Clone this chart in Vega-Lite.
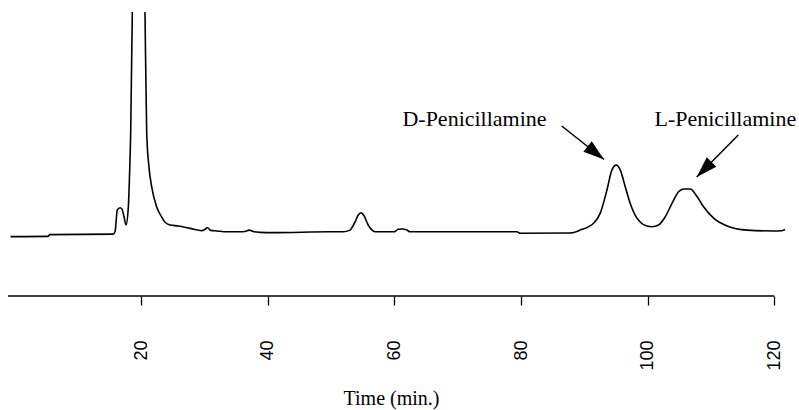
{
  "$schema": "https://vega.github.io/schema/vega-lite/v6.json",
  "width": 779,
  "height": 284,
  "autosize": {"type": "none"},
  "padding": {"left": 8, "top": 12, "right": 12, "bottom": 114},
  "background": "white",
  "config": {"view": {"stroke": null}, "axisY": {"disable": true}},
  "datasets": {
    "trace": [
      {"t": -0.6, "s": 20.9}, {"t": 5.3, "s": 21.0}, {"t": 5.6, "s": 21.6}, {"t": 15.6, "s": 21.8},
      {"t": 15.9, "s": 22.6}, {"t": 16.26, "s": 30.3}, {"t": 16.69, "s": 31.1}, {"t": 17.0, "s": 30.6},
      {"t": 17.32, "s": 27.9}, {"t": 17.63, "s": 25.0}, {"t": 18.0, "s": 31.3}, {"t": 18.19, "s": 42.6},
      {"t": 18.37, "s": 57.4}, {"t": 18.63, "s": 100.3}, {"t": 18.82, "s": 139}, {"t": 19.6, "s": 180},
      {"t": 20.4, "s": 139}, {"t": 20.63, "s": 100.3}, {"t": 20.9, "s": 57.4}, {"t": 21.26, "s": 45.4},
      {"t": 21.69, "s": 38.4}, {"t": 22.48, "s": 31.3}, {"t": 23.27, "s": 27.8}, {"t": 23.79, "s": 25.95},
      {"t": 24.58, "s": 25.0}, {"t": 25.9, "s": 24.65}, {"t": 27.75, "s": 23.8}, {"t": 29.6, "s": 23.0},
      {"t": 30.0, "s": 23.3}, {"t": 30.48, "s": 24.05}, {"t": 31.0, "s": 23.1}, {"t": 31.97, "s": 22.9},
      {"t": 33.55, "s": 22.6}, {"t": 35.65, "s": 22.6}, {"t": 36.4, "s": 22.7}, {"t": 37.12, "s": 23.2},
      {"t": 37.86, "s": 22.6}, {"t": 38.8, "s": 22.4}, {"t": 40.9, "s": 22.3}, {"t": 49.86, "s": 22.6},
      {"t": 51.9, "s": 22.6}, {"t": 53.0, "s": 23.2}, {"t": 53.8, "s": 26.1}, {"t": 54.3, "s": 28.5},
      {"t": 54.71, "s": 29.3}, {"t": 55.23, "s": 28.2}, {"t": 55.87, "s": 25.0}, {"t": 56.5, "s": 23.2},
      {"t": 56.97, "s": 22.6}, {"t": 60.0, "s": 22.6}, {"t": 60.6, "s": 23.5}, {"t": 61.3, "s": 23.6},
      {"t": 61.9, "s": 23.3}, {"t": 62.5, "s": 22.6}, {"t": 79.35, "s": 22.6}, {"t": 79.87, "s": 22.1},
      {"t": 87.77, "s": 22.2}, {"t": 89.35, "s": 23.2}, {"t": 91.45, "s": 25.6}, {"t": 92.5, "s": 29.1},
      {"t": 93.57, "s": 37.3}, {"t": 94.36, "s": 44.4}, {"t": 95.04, "s": 46.1}, {"t": 95.67, "s": 44.4},
      {"t": 96.46, "s": 38.5}, {"t": 97.25, "s": 32.6}, {"t": 98.31, "s": 27.4}, {"t": 99.89, "s": 24.65},
      {"t": 100.68, "s": 24.4}, {"t": 101.72, "s": 25.0}, {"t": 102.78, "s": 27.9}, {"t": 103.84, "s": 32.6},
      {"t": 104.88, "s": 36.7}, {"t": 105.67, "s": 37.7}, {"t": 106.73, "s": 37.7}, {"t": 107.79, "s": 35.0},
      {"t": 108.83, "s": 31.4}, {"t": 110.41, "s": 27.4}, {"t": 112.53, "s": 24.65}, {"t": 115.69, "s": 23.2},
      {"t": 119.89, "s": 22.9}, {"t": 121.2, "s": 23.0}, {"t": 121.7, "s": 23.4}
    ],
    "baseaxis": [{"from": -1, "to": 120, "level": 0}],
    "labels": [
      {"label": "D-Penicillamine", "t": 72.66, "s": 59.96},
      {"label": "L-Penicillamine", "t": 112.26, "s": 59.96}
    ],
    "arrows": [
      {"label": "D-Penicillamine", "t0": 86.43, "s0": 59.86, "t1": 93.11, "s1": 48.06},
      {"label": "L-Penicillamine", "t0": 114.31, "s0": 56.69, "t1": 107.75, "s1": 41.9}
    ]
  },
  "layer": [
    {
      "data": {"name": "trace"},
      "mark": {"type": "line", "color": "black", "strokeWidth": 1.6, "interpolate": "monotone", "clip": true},
      "encoding": {
        "x": {
          "field": "t", "type": "quantitative",
          "scale": {"domain": [-1, 122], "nice": false, "zero": false},
          "axis": {
            "domain": false, "grid": false,
            "values": [20, 40, 60, 80, 100, 120],
            "tickSize": 9, "tickColor": "black", "tickWidth": 1.3,
            "labelAngle": 270, "labelFont": "Liberation Sans", "labelFontSize": 18, "labelColor": "black",
            "labelPadding": 35,
            "title": "Time (min.)", "titleFont": "Liberation Serif", "titleFontSize": 20,
            "titleFontWeight": "normal", "titleColor": "black", "titlePadding": 18, "titleX": 383
          }
        },
        "y": {"field": "s", "type": "quantitative", "scale": {"domain": [0, 100], "nice": false, "zero": false}}
      }
    },
    {
      "data": {"name": "baseaxis"},
      "mark": {"type": "rule", "color": "black", "strokeWidth": 1.3},
      "encoding": {
        "x": {"field": "from", "type": "quantitative"},
        "x2": {"field": "to"},
        "y": {"field": "level", "type": "quantitative"}
      }
    },
    {
      "data": {"name": "labels"},
      "mark": {"type": "text", "font": "Liberation Serif", "fontSize": 22, "color": "black", "align": "center", "baseline": "alphabetic"},
      "encoding": {
        "x": {"field": "t", "type": "quantitative"},
        "y": {"field": "s", "type": "quantitative"},
        "text": {"field": "label"}
      }
    },
    {
      "data": {"name": "arrows"},
      "mark": {"type": "rule", "color": "black", "strokeWidth": 1.5},
      "encoding": {
        "x": {"field": "t0", "type": "quantitative"},
        "y": {"field": "s0", "type": "quantitative"},
        "x2": {"field": "t1"},
        "y2": {"field": "s1"}
      }
    },
    {
      "data": {"name": "arrows"},
      "transform": [{"filter": "datum.label == 'D-Penicillamine'"}],
      "mark": {"type": "point", "shape": "M0,0L0.32,1L-0.32,1Z", "size": 1764, "filled": true, "color": "black", "opacity": 1, "angle": 128.4, "strokeWidth": 0},
      "encoding": {
        "x": {"field": "t1", "type": "quantitative"},
        "y": {"field": "s1", "type": "quantitative"}
      }
    },
    {
      "data": {"name": "arrows"},
      "transform": [{"filter": "datum.label == 'L-Penicillamine'"}],
      "mark": {"type": "point", "shape": "M0,0L0.32,1L-0.32,1Z", "size": 1764, "filled": true, "color": "black", "opacity": 1, "angle": 224.7, "strokeWidth": 0},
      "encoding": {
        "x": {"field": "t1", "type": "quantitative"},
        "y": {"field": "s1", "type": "quantitative"}
      }
    }
  ]
}
